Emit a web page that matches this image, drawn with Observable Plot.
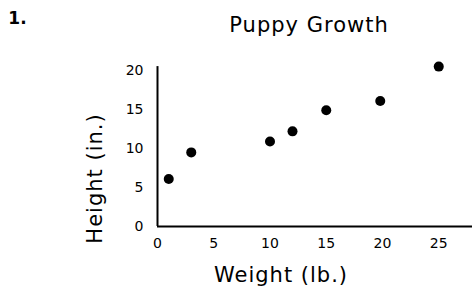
<!DOCTYPE html>
<html><head><meta charset="utf-8">
<script src="https://cdn.jsdelivr.net/npm/d3@7"></script>
<script src="https://cdn.jsdelivr.net/npm/@observablehq/plot@0.6"></script>
<style>body{margin:0;background:#fff}#c{width:474px;height:287px}</style>
</head><body><div id="c"></div>
<script>
const weights = [1, 3, 10, 12, 15, 19.8, 25];
const heights = [6.1, 9.5, 10.9, 12.2, 14.9, 16.1, 20.5];
const xTicks = [0, 5, 10, 15, 20, 25];
const yTicks = [0, 5, 10, 15, 20];
const title = "Puppy Growth";
const xLabel = "Weight (lb.)";
const yLabel = "Height (in.)";
const number = "1.";

const data = weights.map((w, i) => ({w, h: heights[i]}));
const font = "'DejaVu Sans', sans-serif";

const chart = Plot.plot({
  width: 474, height: 287,
  marginLeft: 157, marginRight: 2, marginTop: 70, marginBottom: 61,
  style: {fontFamily: font, color: "#000", background: "#fff"},
  x: {domain: [0, 28], ticks: xTicks},
  y: {domain: [0, 20], ticks: yTicks},
  marks: [
    Plot.axisX({ticks: xTicks, tickSize: 0, tickPadding: 12, label: null, fontSize: 14}),
    Plot.axisY({ticks: yTicks, tickSize: 0, tickPadding: 14, label: null, fontSize: 14}),
    Plot.ruleX([0], {y1: 0, y2: 20.5, stroke: "#000", strokeWidth: 2}),
    Plot.ruleY([0], {x1: 0, x2: 28, stroke: "#000", strokeWidth: 2}),
    Plot.dot(data, {x: "w", y: "h", r: 5, fill: "#000", stroke: "none"}),
    Plot.text([title], {frameAnchor: "top", dx: -6, dy: -45, fontSize: 21, lineAnchor: "middle"}),
    Plot.text([number], {frameAnchor: "top-left", dx: -140, dy: -52, fontSize: 17, fontWeight: "bold", lineAnchor: "middle", textAnchor: "middle"}),
    Plot.text([xLabel], {frameAnchor: "bottom", dx: -34, dy: 49, fontSize: 21, lineAnchor: "middle"}),
    Plot.text([yLabel], {frameAnchor: "left", dx: -62, dy: 30, fontSize: 21, rotate: -90, lineAnchor: "middle", textAnchor: "middle"})
  ]
});
d3.select(chart).selectAll("text")
  .filter(function() { return [title, xLabel, yLabel].includes(this.textContent); })
  .style("letter-spacing", "1px");
document.getElementById("c").append(chart);
</script></body></html>
